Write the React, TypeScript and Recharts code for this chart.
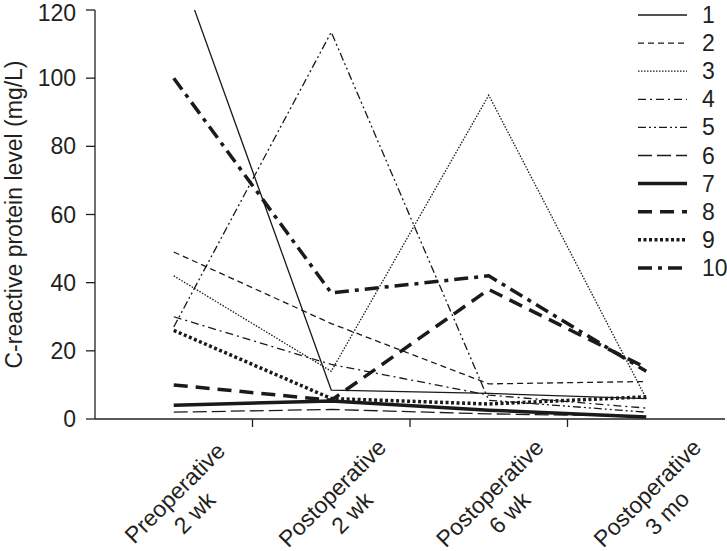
import React from 'react';
import { LineChart, Line, XAxis, YAxis, Legend } from 'recharts';

const timepoints = ['Preoperative', 'Postoperative', 'Postoperative', 'Postoperative'];
const timeUnits = ['2 wk', '2 wk', '6 wk', '3 mo'];

const patient1 = [137, 8.5, 7.5, 6];
const patient2 = [49, 28, 10.3, 11];
const patient3 = [42, 14, 95, 6];
const patient4 = [30, 16, 7, 3.2];
const patient5 = [27, 113.5, 5.5, 2];
const patient6 = [2, 2.8, 1.5, 0.8];
const patient7 = [4, 5.3, 2.6, 0.6];
const patient8 = [10, 5.5, 38, 15];
const patient9 = [26, 6, 4.4, 6.5];
const patient10 = [100, 37, 42, 14];

const yTicks = [0, 20, 40, 60, 80, 100, 120];

const INK = '#231f20';
const FONT = '"Liberation Sans", Arial, Helvetica, sans-serif';

// line style per patient: [width, dasharray]
const series = [
  { key: 'p1', name: '1', values: patient1, width: 1.3, dash: undefined },
  { key: 'p2', name: '2', values: patient2, width: 1.3, dash: '6 4' },
  { key: 'p3', name: '3', values: patient3, width: 1.3, dash: '1.5 1.5' },
  { key: 'p4', name: '4', values: patient4, width: 1.3, dash: '8 4 2 4' },
  { key: 'p5', name: '5', values: patient5, width: 1.3, dash: '8 3 2 3 2 3' },
  { key: 'p6', name: '6', values: patient6, width: 1.3, dash: '14 5' },
  { key: 'p7', name: '7', values: patient7, width: 3.5, dash: undefined },
  { key: 'p8', name: '8', values: patient8, width: 3.5, dash: '14 8' },
  { key: 'p9', name: '9', values: patient9, width: 3.5, dash: '3 2.5' },
  { key: 'p10', name: '10', values: patient10, width: 3.5, dash: '14 6 4 6' },
];

const data = timepoints.map((t, i) => {
  const row: { [k: string]: number } = { x: i + 0.5 };
  series.forEach(s => { row[s.key] = s.values[i]; });
  return row;
});

// fractional ticks carry the category label, integer ticks are the band separators
const xTicks = [0.5, 1, 1.5, 2, 2.5, 3, 3.5];

const XTick = (props: any) => {
  const { x, y, payload } = props;
  const v = payload.value;
  if (Number.isInteger(v)) {
    return <line x1={x} x2={x} y1={y} y2={y + 8} stroke={INK} strokeWidth={1.3} />;
  }
  const i = Math.floor(v);
  return (
    <g transform={`translate(${x + 1},${y + 74}) rotate(-45)`}>
      <text x={0} y={8} textAnchor="middle" fontSize={23} fill={INK} fontFamily={FONT}>{timepoints[i]}</text>
      <text x={0} y={36} textAnchor="middle" fontSize={23} fill={INK} fontFamily={FONT}>{timeUnits[i]}</text>
    </g>
  );
};

const YLabel = (props: any) => {
  const vb = props.viewBox || { x: 0, y: 10, width: 95, height: 409 };
  const cy = vb.y + vb.height / 2;
  return (
    <text transform={`translate(22,${cy}) rotate(-90)`} textAnchor="middle" fontSize={23} fill={INK} fontFamily={FONT}>
      C-reactive protein level (mg/L)
    </text>
  );
};

const LegendBox = () => (
  <svg width={97} height={290}>
    {series.map((s, i) => {
      const cy = 15 + i * 28.1;
      return (
        <g key={s.key}>
          <line x1={8} x2={57} y1={cy} y2={cy} stroke="#1a1a1a" strokeWidth={s.width} strokeDasharray={s.dash} />
          <text x={72} y={cy + 8} fontSize={23} fill={INK} fontFamily={FONT}>{s.name}</text>
        </g>
      );
    })}
  </svg>
);

export default function App() {
  return (
    <div style={{ position: 'absolute', left: 0, top: 0, background: '#fff' }}>
      <LineChart width={727} height={551} data={data} margin={{ top: 10, right: 2, bottom: 0, left: 0 }}>
        <XAxis
          dataKey="x"
          type="number"
          domain={[0, 4]}
          ticks={xTicks}
          interval={0}
          tickLine={false}
          tickSize={0}
          tickMargin={0}
          height={132}
          axisLine={{ stroke: INK, strokeWidth: 1.3 }}
          tick={<XTick />}
        />
        <YAxis
          domain={[0, 120]}
          ticks={yTicks}
          allowDataOverflow
          width={95}
          tickSize={9}
          tickMargin={10}
          axisLine={{ stroke: INK, strokeWidth: 1.3 }}
          tickLine={{ stroke: INK, strokeWidth: 1.3 }}
          tick={{ fontSize: 23, fill: INK, fontFamily: FONT }}
          label={<YLabel />}
        />
        <Legend
          layout="vertical"
          align="center"
          verticalAlign="middle"
          wrapperStyle={{ left: 630, top: 0, width: 97, height: 290 }}
          content={() => <LegendBox />}
        />
        {series.map(s => (
          <Line
            key={s.key}
            dataKey={s.key}
            name={s.name}
            type="linear"
            stroke="#1a1a1a"
            strokeWidth={s.width}
            strokeDasharray={s.dash}
            dot={false}
            activeDot={false}
            isAnimationActive={false}
          />
        ))}
      </LineChart>
    </div>
  );
}
